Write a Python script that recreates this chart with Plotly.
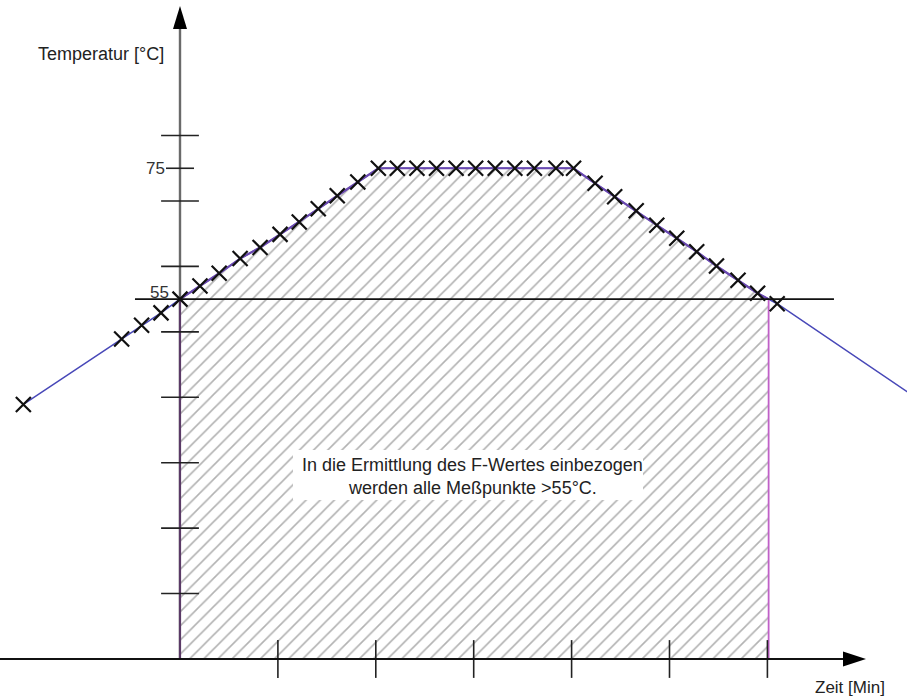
import plotly.graph_objects as go

# ---------------- data ----------------
# time in minutes (one x tick = 5 min), temperature in °C
rise_t = [-8.0, -2.98, -1.96, -0.97, 0.0, 1.02, 2.0, 3.07, 4.09, 5.11, 6.09, 7.06, 8.03, 9.08, 10.13]
rise_T = [38.9, 48.9, 51.0, 52.9, 55.0, 57.0, 58.95, 61.2, 62.9, 64.9, 66.8, 68.8, 70.8, 72.9, 75.0]
plateau_t = [11.1, 12.1, 13.1, 14.1, 15.1, 16.1, 17.1, 18.1, 19.2, 20.1]
plateau_T = [75, 75, 75, 75, 75, 75, 75, 75, 75, 75]
fall_t = [21.2, 22.2, 23.3, 24.35, 25.37, 26.39, 27.4, 28.5, 29.5, 30.5]
fall_T = [72.7, 70.65, 68.5, 66.3, 64.3, 62.25, 60.06, 57.9, 55.9, 54.3]
tail_t = [38.0]
tail_T = [39.1]

threshold = 55
y_ticks = [10, 20, 30, 40, 50, 60, 70, 80]
y_labeled_ticks = [75]
x_ticks = [5, 10, 15, 20, 25, 30]

y_title = "Temperatur [°C]"
x_title = "Zeit [Min]"
note_lines = ["In die Ermittlung des F-Wertes einbezogen", "werden alle Meßpunkte >55°C."]

# ---------------- derived series ----------------
pts_t = rise_t + plateau_t + fall_t
pts_T = rise_T + plateau_T + fall_T
line_t = pts_t + tail_t
line_T = pts_T + tail_T

# end of the >55 region (linear crossing between measured points)
t_end = None
for i in range(1, len(pts_t)):
    if pts_t[i] > 0 and pts_T[i - 1] >= threshold > pts_T[i]:
        f = (pts_T[i - 1] - threshold) / (pts_T[i - 1] - pts_T[i])
        t_end = pts_t[i - 1] + f * (pts_t[i] - pts_t[i - 1])
        break

inner = [(t, T) for t, T in zip(pts_t, pts_T) if 0 < t < t_end]
top_t = [0] + [p[0] for p in inner] + [t_end]
top_T = [threshold] + [p[1] for p in inner] + [threshold]
poly_t = [0] + top_t + [t_end, 0]
poly_T = [0] + top_T + [0, 0]

# ---------------- layout geometry ----------------
# body margin is removed by a post script, so the figure fills the window
OFF = 0
W, H = 907, 698
PX_PER_MIN = 19.58
PX_PER_DEG = 6.543
X0_PX, Y0_PX = 180, 659          # window pixel of the origin
x_range = [(OFF - X0_PX) / PX_PER_MIN, (OFF + W - X0_PX) / PX_PER_MIN]
y_range = [(Y0_PX - (OFF + H)) / PX_PER_DEG, (Y0_PX - OFF) / PX_PER_DEG]


def px(x):          # window x pixel -> paper
    return (x - OFF) / W


def py(y):          # window y pixel -> paper
    return 1 - (y - OFF) / H


def paper_of_T(T):
    return (T - y_range[0]) / (y_range[1] - y_range[0])


FONT = "Liberation Sans, Arial, sans-serif"
fig = go.Figure()

# hatched area
fig.add_trace(go.Scatter(
    x=poly_t, y=poly_T, mode="lines", fill="toself",
    line=dict(width=0, color="rgba(0,0,0,0)"),
    fillcolor="white",
    fillpattern=dict(shape="/", size=10, solidity=0.16, fgcolor="#666666", bgcolor="white"),
    hoverinfo="skip", showlegend=False,
))

# measurement line (thin blue)
fig.add_trace(go.Scatter(
    x=line_t, y=line_T, mode="lines",
    line=dict(color="#4848b8", width=1.5),
    hoverinfo="skip", showlegend=False,
))
# upper border of the hatched region (purple)
fig.add_trace(go.Scatter(
    x=top_t, y=top_T, mode="lines",
    line=dict(color="#6a48b0", width=2.2),
    hoverinfo="skip", showlegend=False,
))
# vertical limits
fig.add_trace(go.Scatter(
    x=[0, 0], y=[0, threshold], mode="lines",
    line=dict(color="#5a3a66", width=2.2), hoverinfo="skip", showlegend=False,
))
fig.add_trace(go.Scatter(
    x=[t_end, t_end], y=[0, threshold], mode="lines",
    line=dict(color="#c060c8", width=1.8), hoverinfo="skip", showlegend=False,
))

# axis lines
fig.add_shape(type="line", xref="x", yref="paper", x0=0, x1=0,
              y0=paper_of_T(0), y1=py(24), line=dict(color="#6a6a6a", width=2.4), layer="below")
fig.add_shape(type="line", xref="paper", yref="y", x0=px(0), x1=px(846), y0=0, y1=0,
              line=dict(color="#111111", width=2.2), layer="above")
# arrow heads
fig.add_shape(type="path", xref="x", yref="paper", xsizemode="pixel", xanchor=0,
              path=f"M -7,{py(29)} L 0,{py(6)} L 7,{py(29)} Z",
              fillcolor="black", line=dict(width=0))
fig.add_shape(type="path", xref="paper", yref="y", ysizemode="pixel", yanchor=0,
              path=f"M {px(843)},-7.5 L {px(866)},0 L {px(843)},7.5 Z",
              fillcolor="black", line=dict(width=0))

# threshold line
fig.add_shape(type="line", xref="x", yref="y", x0=-2.3, x1=33.4, y0=threshold, y1=threshold,
              line=dict(color="#111111", width=1.6), layer="above")

# tick marks
fig.add_trace(go.Scatter(
    x=[0] * len(y_ticks), y=y_ticks, mode="markers",
    marker=dict(symbol="line-ew", size=27, line=dict(color="#222222", width=1.6)),
    hoverinfo="skip", showlegend=False,
))
fig.add_trace(go.Scatter(
    x=[0] * len(y_labeled_ticks), y=y_labeled_ticks, mode="markers",
    marker=dict(symbol="line-ew", size=20, line=dict(color="#222222", width=1.6)),
    hoverinfo="skip", showlegend=False,
))
fig.add_trace(go.Scatter(
    x=x_ticks, y=[0] * len(x_ticks), mode="markers",
    marker=dict(symbol="line-ns", size=27, line=dict(color="#222222", width=1.6)),
    hoverinfo="skip", showlegend=False,
))

# measurement crosses
fig.add_trace(go.Scatter(
    x=pts_t, y=pts_T, mode="markers",
    marker=dict(symbol="x-thin", size=15, line=dict(color="#111111", width=2.2)),
    hoverinfo="skip", showlegend=False,
))

# note box
fig.add_shape(type="rect", xref="paper", yref="paper",
              x0=px(293), x1=px(643), y0=py(500), y1=py(450),
              fillcolor="white", line=dict(width=0), layer="above")
for i, txt in enumerate(note_lines):
    fig.add_annotation(x=px(472), xref="paper", y=py(465 + 23 * i), yref="paper",
                       text=txt, showarrow=False, xanchor="center", yanchor="middle",
                       font=dict(family=FONT, size=18, color="#222222"))

# axis labels
fig.add_annotation(x=0, xref="x", xshift=-13, y=75, yref="y", text="75", showarrow=False,
                   xanchor="right", yanchor="middle", font=dict(family=FONT, size=17, color="#333333"))
fig.add_annotation(x=0, xref="x", xshift=-9, y=threshold, yref="y", yshift=7, text="55", showarrow=False,
                   xanchor="right", yanchor="middle", font=dict(family=FONT, size=17, color="#333333"))
fig.add_annotation(x=px(166), xref="paper", y=py(54), yref="paper", text=y_title, showarrow=False,
                   xanchor="right", yanchor="middle", font=dict(family=FONT, size=18, color="#222222"))
fig.add_annotation(x=px(887), xref="paper", y=py(687), yref="paper", text=x_title, showarrow=False,
                   xanchor="right", yanchor="middle", font=dict(family=FONT, size=17, color="#222222"))

# remnants of the large title cut off at the top edge
for gx in [147, 520, 668]:
    fig.add_annotation(x=px(gx), xref="paper", y=py(2), yref="paper", text="<b>g</b>",
                       showarrow=False, xanchor="center", yanchor="bottom",
                       font=dict(family=FONT, size=46, color="black"))

fig.update_layout(
    width=W, height=H, autosize=False,
    margin=dict(l=0, r=0, t=0, b=0),
    paper_bgcolor="white", plot_bgcolor="white",
    xaxis=dict(range=x_range, visible=False, fixedrange=True),
    yaxis=dict(range=y_range, visible=False, fixedrange=True),
    showlegend=False,
)

fig.write_html("out.html", config={"displayModeBar": False},
               post_script="document.body.style.margin='0';document.body.style.overflow='hidden';")
